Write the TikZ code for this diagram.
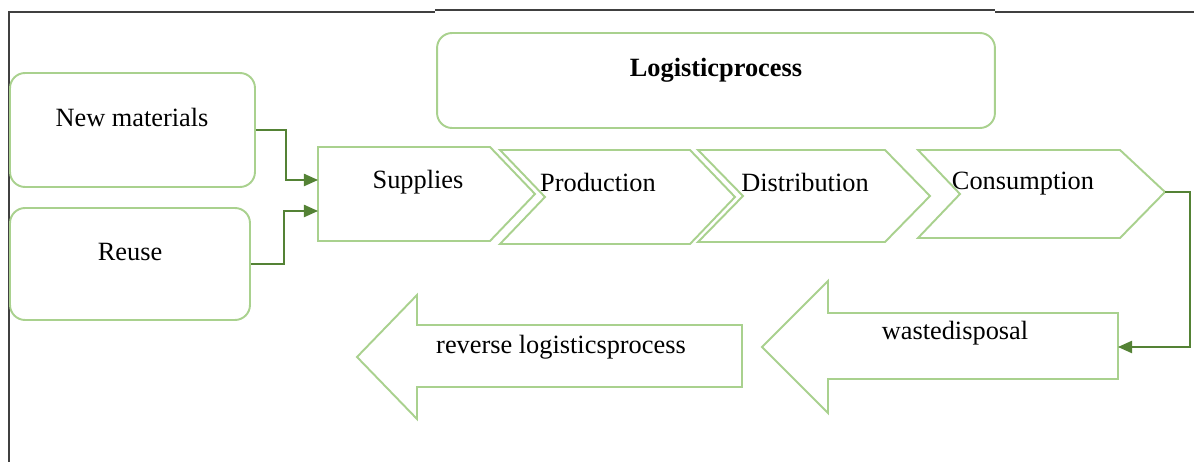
\documentclass[tikz,border=0pt]{standalone}
\usepackage{fontspec}
\setmainfont{Liberation Serif}
\usetikzlibrary{arrows.meta}
\definecolor{lightgrn}{HTML}{A9D18E}
\definecolor{darkgrn}{HTML}{548235}
\tikzset{
  rbox/.style={draw=lightgrn,line width=1.1pt,rounded corners=0.3cm,inner sep=0pt},
  outl/.style={draw=lightgrn,line width=1.1pt,line join=miter},
  link/.style={draw=darkgrn,line width=0.8pt,-{Triangle[length=8pt,width=7pt]}},
  lbl/.style={font=\fontsize{15}{18}\selectfont,inner sep=0pt}
}
\begin{document}
\begin{tikzpicture}[x=0.02cm,y=-0.02cm]
\useasboundingbox (0,0) rectangle (1194,462);
% frame
\draw[line width=1.2pt,black!75]
  (9,462) -- (9,12) -- (435,12) (435,10) -- (995,10) (995,12) -- (1194,12);
% boxes
\node[rbox,minimum width=4.9cm,minimum height=2.28cm] (newmat) at (132.5,130) {};
\node[rbox,minimum width=4.8cm,minimum height=2.24cm] (reuse) at (130,264) {};
\node[rbox,minimum width=11.16cm,minimum height=1.9cm] (logproc) at (716,80.5) {};
\node[lbl] (newmattxt) at (132,117) {New materials};
\node[lbl] (reusetxt) at (130,252) {Reuse};
\node[lbl,font=\fontsize{15}{18}\selectfont\bfseries] (logtxt) at (716,70) {Logisticprocess};
% chevrons
\draw[outl]
  (500,150) -- (690,150) -- (735,197) -- (690,244) -- (500,244) -- (545,197) -- cycle
  (698,150) -- (885,150) -- (930,196) -- (885,242) -- (698,242) -- (743,196) -- cycle
  (918,150) -- (1120,150) -- (1165,192) -- (1120,238) -- (918,238) -- (960,194) -- cycle;
\draw[outl,fill=white]
  (318,147) -- (490,147) -- (535,194) -- (490,241) -- (318,241) -- cycle;
\node[lbl] (supp) at (418,182) {Supplies};
\node[lbl] (prod) at (598,182) {Production};
\node[lbl] (distr) at (805,182) {Distribution};
\node[lbl] (cons) at (1023,184) {Consumption};
\coordinate (supin1) at (318,180);
\coordinate (supin2) at (318,211);
\coordinate (constip) at (1165,192);
% block arrows
\draw[outl]
  (1118,313) -- (828,313) -- (828,281) -- (762,347) -- (828,413) -- (828,379) -- (1118,379) -- cycle
  (742,325) -- (417,325) -- (417,295) -- (357,357) -- (417,419) -- (417,387) -- (742,387) -- cycle;
\node[lbl] (waste) at (955,333) {wastedisposal};
\node[lbl] (rev) at (561,347) {reverse logisticsprocess};
\coordinate (wastein) at (1118,347);
% links
\draw[link] (newmat.east) -- ++(30,0) |- (supin1);
\draw[link] (reuse.east) -- ++(33,0) |- (supin2);
\draw[link] (constip) -- (1190,192) |- (wastein);
\end{tikzpicture}
\end{document}
